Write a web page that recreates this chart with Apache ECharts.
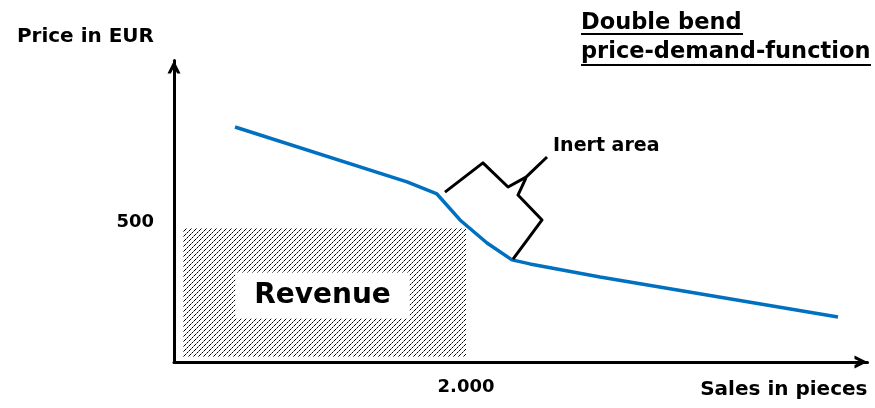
<!DOCTYPE html>
<html>
<head>
<meta charset="utf-8">
<script src="https://cdn.jsdelivr.net/npm/echarts@6/dist/echarts.min.js"></script>
<style>html,body{margin:0;padding:0;background:#fff}#c{width:875px;height:408px}</style>
</head>
<body>
<div id="c"></div>
<script>
// ---- data ----
const titleLines = ['Double bend', 'price-demand-function'];
const yAxisName = 'Price in EUR';
const xAxisName = 'Sales in pieces';
const xTickLabels = {2000: '2.000'};
const yTickLabels = {500: '500'};
// demand curve (sales in pieces, price in EUR)
const demandSales = [418, 1596, 1801, 1959, 2144, 2315, 2438, 2918, 4548];
const demandPrice = [877, 672, 627, 530, 444, 381, 366, 317, 168];
// brace marking the inert area
const braceUpperSales = [1856, 2116, 2288, 2411, 2555];
const braceUpperPrice = [634, 743, 653, 690, 765];
const braceLowerSales = [2411, 2356, 2521, 2322];
const braceLowerPrice = [687, 623, 530, 384];
const braceLabel = 'Inert area';
// revenue rectangle: quantity x price
const revenueSales = [0, 2000];
const revenuePrice = [0, 500];
const revenueLabel = 'Revenue';

const FONT = 'DejaVu Sans';
const zip = (a, b) => a.map((v, i) => [v, b[i]]);

// hatch pattern
const pc = document.createElement('canvas');
pc.width = 5; pc.height = 5;
const g = pc.getContext('2d');
for (let i = 0; i < 5; i++) {
  g.fillStyle = i % 2 ? '#777' : '#000';
  g.fillRect(i, 4 - i, 1, 1);
}

const chevron = 'path://M0,10 L5,0 L10,10 L7.4,10 L5,5.2 L2.6,10 Z';

const chart = echarts.init(document.getElementById('c'), null, {renderer: 'canvas'});
chart.setOption({
  animation: false,
  backgroundColor: '#fff',
  title: {
    text: titleLines.join('\n'),
    left: 576, top: 4,
    textStyle: {fontFamily: FONT, fontWeight: 'bold', fontSize: 22.5, lineHeight: 29, color: '#000'}
  },
  graphic: [
    {type: 'line', shape: {x1: 581, y1: 34, x2: 743, y2: 34}, style: {stroke: '#000', lineWidth: 2}},
    {type: 'line', shape: {x1: 581, y1: 65, x2: 871, y2: 65}, style: {stroke: '#000', lineWidth: 2}}
  ],
  grid: {left: 174, right: 7.5, top: 60.5, bottom: 46, containLabel: false, outerBoundsMode: 'none'},
  xAxis: {
    type: 'value', min: 0, max: 4750, interval: 2000,
    name: xAxisName, nameLocation: 'end', nameGap: 0,
    nameTextStyle: {fontFamily: FONT, fontWeight: 'bold', fontSize: 20, color: '#000', align: 'right', verticalAlign: 'top', lineHeight: 56},
    axisLine: {show: true, lineStyle: {color: '#000', width: 3}, symbol: ['none', chevron], symbolSize: [17, 13], symbolOffset: [0, -6.5]},
    axisTick: {show: false}, splitLine: {show: false},
    axisLabel: {margin: 16, fontFamily: FONT, fontWeight: 'bold', fontSize: 18, color: '#000', showMaxLabel: false, showMinLabel: false,
      formatter: v => xTickLabels[v] || ''}
  },
  yAxis: {
    type: 'value', min: 0, max: 1125, interval: 500,
    name: yAxisName, nameLocation: 'end', nameGap: 24,
    nameTextStyle: {fontFamily: FONT, fontWeight: 'bold', fontSize: 20, color: '#000', align: 'right', verticalAlign: 'middle', padding: [0, 20, 0, 0]},
    axisLine: {show: true, lineStyle: {color: '#000', width: 3}, symbol: ['none', chevron], symbolSize: [17, 13], symbolOffset: [0, -6.5]},
    axisTick: {show: false}, splitLine: {show: false},
    axisLabel: {margin: 20, fontFamily: FONT, fontWeight: 'bold', fontSize: 18, color: '#000', showMaxLabel: false, showMinLabel: false,
      verticalAlign: 'bottom', lineHeight: 12, formatter: v => yTickLabels[v] || ''}
  },
  series: [
    {
      type: 'custom', z: 1,
      data: [[revenueSales[0], revenuePrice[0], revenueSales[1], revenuePrice[1]]],
      encode: {x: [0, 2], y: [1, 3]},
      renderItem: function (params, api) {
        const p0 = api.coord([api.value(0), api.value(1)]);
        const p1 = api.coord([api.value(2), api.value(3)]);
        const x = p0[0] + 9, y = p1[1], w = p1[0] - p0[0] - 9, h = p0[1] - p1[1] - 5;
        return {
          type: 'group',
          children: [
            {type: 'rect', shape: {x: x, y: y, width: w, height: h}, style: {fill: {image: pc, repeat: 'repeat'}}},
            {type: 'text', x: x + w / 2 - 2, y: y + h / 2 + 3,
              style: {text: revenueLabel, fontFamily: FONT, fontWeight: 'bold', fontSize: 28, fill: '#000',
                align: 'center', verticalAlign: 'middle', backgroundColor: '#fff', padding: [10, 19, 8, 19]}}
          ]
        };
      }
    },
    {
      type: 'line', z: 3, data: zip(demandSales, demandPrice),
      symbol: 'none', smooth: false,
      lineStyle: {color: '#0070C0', width: 3.5}
    },
    {
      type: 'line', z: 3, data: zip(braceUpperSales, braceUpperPrice),
      symbol: 'none', lineStyle: {color: '#000', width: 3, join: 'round'},
      endLabel: {show: true, formatter: braceLabel, fontFamily: FONT, fontWeight: 'bold', fontSize: 19, color: '#000', distance: 6, offset: [0, -11]}
    },
    {
      type: 'line', z: 3, data: zip(braceLowerSales, braceLowerPrice),
      symbol: 'none', lineStyle: {color: '#000', width: 3, join: 'round'}
    }
  ]
});
</script>
</body>
</html>
